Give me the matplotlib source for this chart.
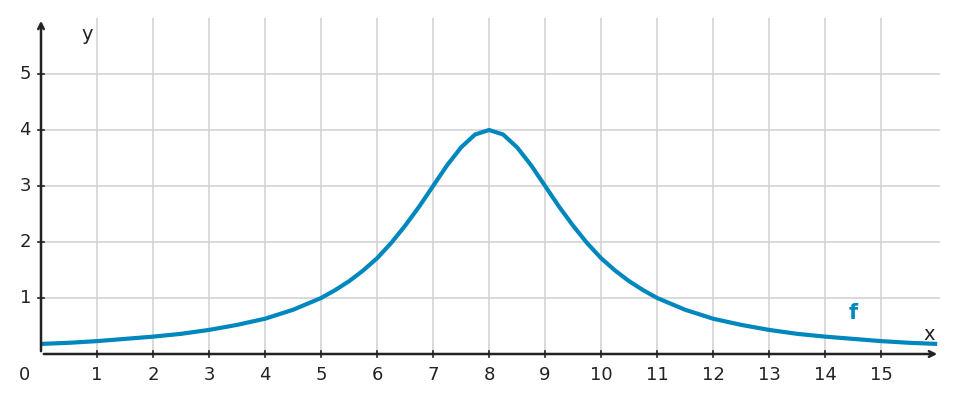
import matplotlib
matplotlib.use("Agg")
import matplotlib.pyplot as plt

# curve values (symmetric bell around x = 8)
right_x = [8, 8.25, 8.5, 8.75, 9, 9.25, 9.5, 9.75, 10, 10.25, 10.5, 10.75, 11,
           11.5, 12, 12.5, 13, 13.5, 14, 14.5, 15, 15.5, 16]
right_y = [4.00, 3.92, 3.69, 3.37, 3.00, 2.63, 2.29, 1.98, 1.71, 1.49, 1.30, 1.14, 1.00,
           0.79, 0.63, 0.52, 0.43, 0.36, 0.31, 0.27, 0.23, 0.20, 0.18]
xs = [16 - v for v in right_x[::-1]] + right_x[1:]
ys = right_y[::-1] + right_y[1:]

x_ticks = list(range(1, 16))
y_ticks = [1, 2, 3, 4, 5]
color = "#0087bd"
axis_color = "#222222"

fig = plt.figure(figsize=(9.59, 4.03), dpi=100)
ax = fig.add_axes([41 / 959, 49 / 403, 899 / 959, 336 / 403])
ax.set_xlim(0, 16.05)
ax.set_ylim(0, 6)

for t in x_ticks:
    ax.axvline(t, color="#d3d3d3", lw=1.2, zorder=0)
for t in y_ticks:
    ax.axhline(t, color="#d3d3d3", lw=1.2, zorder=0)

ax.plot(xs, ys, color=color, lw=3, solid_capstyle="butt", zorder=3, clip_on=False)

for s in ax.spines.values():
    s.set_visible(False)
ax.set_xticks([])
ax.set_yticks([])

# axes with arrows
ax.annotate("", xy=(16.05, 0), xytext=(0, 0), xycoords="data",
            arrowprops=dict(arrowstyle="->", color=axis_color, lw=1.8), annotation_clip=False)
ax.annotate("", xy=(0, 6.0), xytext=(0, 0), xycoords="data",
            arrowprops=dict(arrowstyle="->", color=axis_color, lw=1.8), annotation_clip=False)

for t in x_ticks:
    ax.plot([t, t], [-0.05, 0.05], color=axis_color, lw=1.2, clip_on=False)
    ax.text(t, -0.22, str(t), ha="center", va="top", fontsize=13, color=axis_color)
for t in y_ticks:
    ax.plot([-0.05, 0.05], [t, t], color=axis_color, lw=1.2, clip_on=False)
    ax.text(-0.18, t, str(t), ha="right", va="center", fontsize=13, color=axis_color)

ax.text(-0.3, -0.22, "0", ha="center", va="top", fontsize=13, color=axis_color)
ax.text(15.85, 0.35, "x", ha="center", va="center", fontsize=14, color=axis_color)
ax.text(0.82, 5.7, "y", ha="center", va="center", fontsize=14, color=axis_color)
ax.text(14.5, 0.73, "f", ha="center", va="center", fontsize=15, color=color, fontweight="bold")

fig.savefig("out.png", dpi=100)
